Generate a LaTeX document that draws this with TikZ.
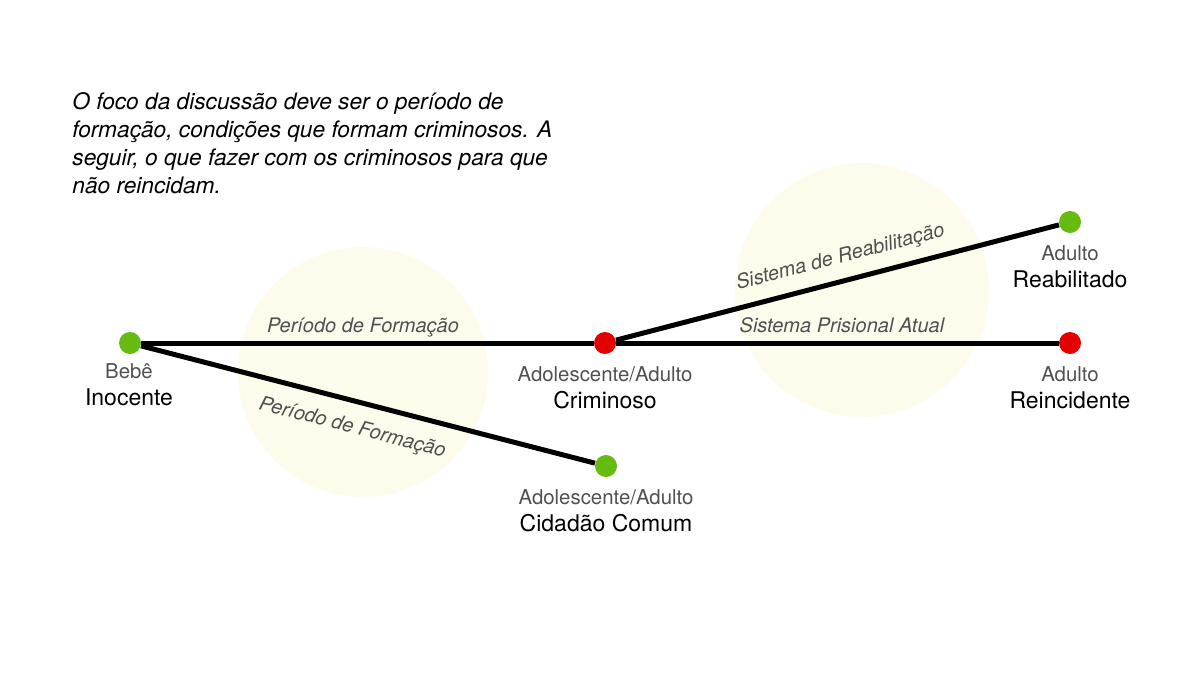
\documentclass[tikz,border=0pt]{standalone}
\usepackage{fontspec}
\setmainfont{TeX Gyre Heros}

\definecolor{verde}{RGB}{102,187,17}
\definecolor{vermelho}{RGB}{226,0,0}
\definecolor{creme}{RGB}{253,252,236}
\definecolor{cinza}{RGB}{80,80,80}

\newcommand{\fraco}[1]{{\fontsize{10.2}{13.5}\selectfont\color{cinza}#1}}

\tikzset{
	ponto/.style={circle, inner sep=0pt, minimum size=11pt},
	fase/.style={fill=creme},
	linha/.style={line width=2.5pt, black},
	rotulo/.style={align=center, inner sep=0pt, anchor=base, font=\fontsize{11.5}{13.5}\selectfont},
	etapa/.style={font=\fontsize{10}{12}\selectfont\itshape, text=cinza, inner sep=0pt, anchor=base}
}

\begin{document}
\begin{tikzpicture}[x=0.5pt, y=-0.5pt]
	\useasboundingbox (0,0) rectangle (1200,675);
	
	% Fases
	\fill[fase] (363,372) circle[radius=62.5pt];
	\fill[fase] (862,290) circle[radius=63.5pt];
	
	% Texto
	\node[anchor=base west, align=left, inner sep=0pt, font=\fontsize{11.35}{14}\selectfont\itshape] (texto) at (72,193)
	{O foco da discussão deve ser o período de\\
	 formação, condições que formam criminosos. A\\
	 seguir, o que fazer com os criminosos para que\\
	 não reincidam.};
	
	% Pontos
	\node[ponto, fill=verde] (bebe) at (130,343) {};
	\node[ponto, fill=vermelho] (criminoso) at (605,343) {};
	\node[ponto, fill=verde] (cidadao) at (606,466) {};
	\node[ponto, fill=verde] (reabilitado) at (1070,222) {};
	\node[ponto, fill=vermelho] (reincidente) at (1070,343) {};
	
	% Ligacoes
	\draw[linha] (bebe) -- node[etapa, pos=.49, yshift=5.5pt] {Período de Formação} (criminoso);
	\draw[linha] (bebe) -- node[etapa, sloped, pos=.48, yshift=-16pt] {Período de Formação} (cidadao);
	\draw[linha] (criminoso) -- node[etapa, sloped, pos=.52, yshift=9pt] {Sistema de Reabilitação} (reabilitado);
	\draw[linha] (criminoso) -- node[etapa, pos=.51, yshift=5.5pt] {Sistema Prisional Atual} (reincidente);
	
	% Rotulos
	\node[rotulo] (lbebe) at (129,405) {\fraco{Bebê}\\Inocente};
	\node[rotulo] (lcriminoso) at (605,408) {\fraco{Adolescente/Adulto}\\Criminoso};
	\node[rotulo] (lcidadao) at (606,531) {\fraco{Adolescente/Adulto}\\Cidadão Comum};
	\node[rotulo] (lreabilitado) at (1070,287) {\fraco{Adulto}\\Reabilitado};
	\node[rotulo] (lreincidente) at (1070,408) {\fraco{Adulto}\\Reincidente};
	
\end{tikzpicture}
\end{document}
